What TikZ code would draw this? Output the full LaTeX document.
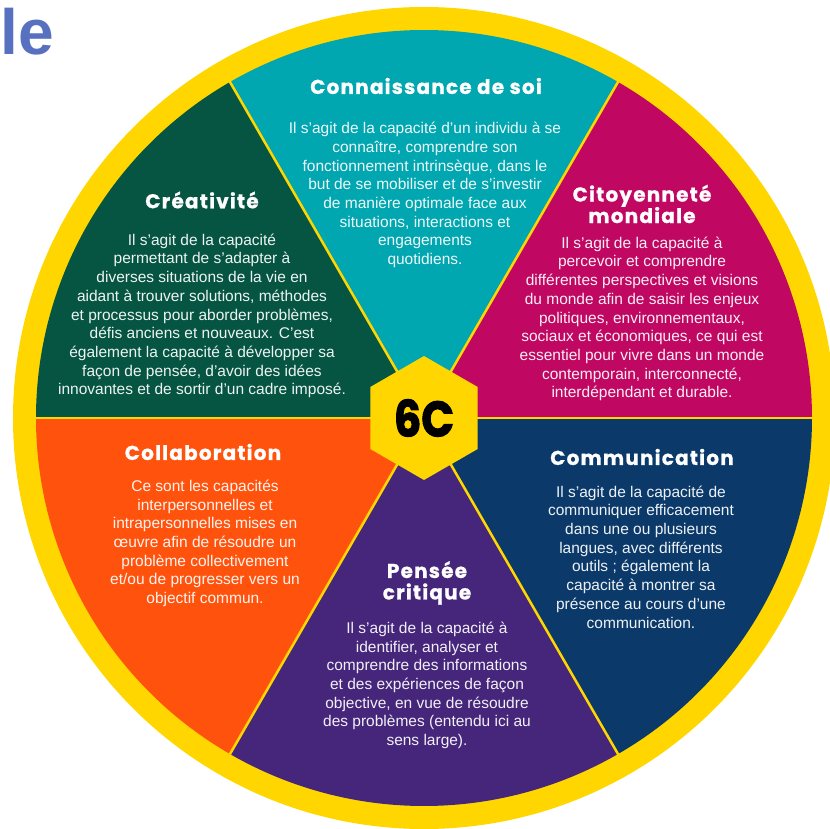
\documentclass[tikz,border=0pt]{standalone}
\usepackage{fontspec}
\setmainfont{Liberation Sans}
\newfontfamily\titlefont{Poppins}[LetterSpace=6,BoldFeatures={FakeBold=0.9,LetterSpace=6}]
\newfontfamily\chiffrefont{Poppins}[BoldFeatures={FakeBold=2,FakeStretch=0.86}]
\usepackage{tikz}
\usetikzlibrary{shapes.geometric,positioning}
\usepackage{xcolor}

\definecolor{jaune}{RGB}{255,214,0}
\definecolor{turquoise}{RGB}{0,166,176}
\definecolor{framboise}{RGB}{192,8,99}
\definecolor{marine}{RGB}{11,58,106}
\definecolor{violet6c}{RGB}{70,38,122}
\definecolor{orange6c}{RGB}{255,83,13}
\definecolor{sapin}{RGB}{6,85,67}
\definecolor{bleutitre}{RGB}{88,112,192}

\begin{document}
\begin{tikzpicture}[x=1pt,y=1pt,
	  every node/.style={align=center,text=white,draw=none,inner sep=0pt},
	  titre/.style={font=\titlefont\bfseries\fontsize{20}{21.5}\selectfont},
	  corps/.style={font=\fontsize{15.5}{18.7}\selectfont,text opacity=0.93},
	  hexa/.style={regular polygon,regular polygon sides=6,regular polygon rotate=30,
	    minimum size=124pt,fill=jaune,text=black,font=\chiffrefont\bfseries\fontsize{50}{50}\selectfont},
	  rayon/.style={draw=jaune,line width=2.5pt}]

	  \useasboundingbox (-424,418) rectangle (406,-411);
	  \clip (-424,418) rectangle (406,-411);

	  % Roue : anneau jaune puis les six secteurs
	  \fill[jaune] (0,0) circle[radius=411];
	  \foreach \a/\c in {0/framboise,60/turquoise,120/sapin,180/orange6c,240/violet6c,300/marine}
	    \fill[\c] (0,0) -- (\a:388) arc[start angle=\a,delta angle=60,radius=388] -- cycle;
	  \foreach \a in {0,60,...,300}
	    \draw[rayon] (0,0) -- (\a:389);

	  \node[hexa] (sixc) at (0,0) {6C};

	  % Titres et textes des secteurs
	  \node[titre] (soi) at (2,332) {Connaissance de soi};
	  \node[corps] (soitxt) at (1,223) {Il s’agit de la capacité d'un individu à se\\connaître, comprendre son\\fonctionnement intrinsèque, dans le\\but de se mobiliser et de s’investir\\de manière optimale face aux\\situations, interactions et\\engagements\\quotidiens.};

	  \node[titre] (crea) at (-222,218) {Créativité};
	  \node[corps] (creatxt) at (-222,102) {Il s’agit de la capacité\\permettant de s’adapter à\\diverses situations de la vie en\\aidant à trouver solutions, méthodes\\et processus pour aborder problèmes,\\défis anciens et nouveaux. C’est\\également la capacité à développer sa\\façon de pensée, d’avoir des idées\\innovantes et de sortir d’un cadre imposé.};

	  \node[titre] (citoyen) at (218,214) {Citoyenneté\\mondiale};
	  \node[corps] (citoyentxt) at (218,99) {Il s’agit de la capacité à\\percevoir et comprendre\\différentes perspectives et visions\\du monde afin de saisir les enjeux\\politiques, environnementaux,\\sociaux et économiques, ce qui est\\essentiel pour vivre dans un monde\\contemporain, interconnecté,\\interdépendant et durable.};

	  \node[titre] (collab) at (-221,-34) {Collaboration};
	  \node[corps] (collabtxt) at (-219,-125.5) {Ce sont les capacités\\interpersonnelles et\\intrapersonnelles mises en\\œuvre afin de résoudre un\\problème collectivement\\et/ou de progresser vers un\\objectif commun.};

	  \node[titre] (commu) at (218,-39) {Communication};
	  \node[corps] (commutxt) at (217,-139) {Il s’agit de la capacité de\\communiquer efficacement\\dans une ou plusieurs\\langues, avec différents\\outils ; également la\\capacité à montrer sa\\présence au cours d’une\\communication.};

	  \node[titre] (pensee) at (3,-165) {Pensée\\critique};
	  \node[corps] (penseetxt) at (3,-267.5) {Il s’agit de la capacité à\\identifier, analyser et\\comprendre des informations\\et des expériences de façon\\objective, en vue de résoudre\\des problèmes (entendu ici au\\sens large).};

	  % Bout de titre coupé en haut a gauche
	  \node[anchor=base west,text=bleutitre,font=\bfseries\fontsize{64}{64}\selectfont] (bout) at (-423.5,363) {le};

\end{tikzpicture}
\end{document}
